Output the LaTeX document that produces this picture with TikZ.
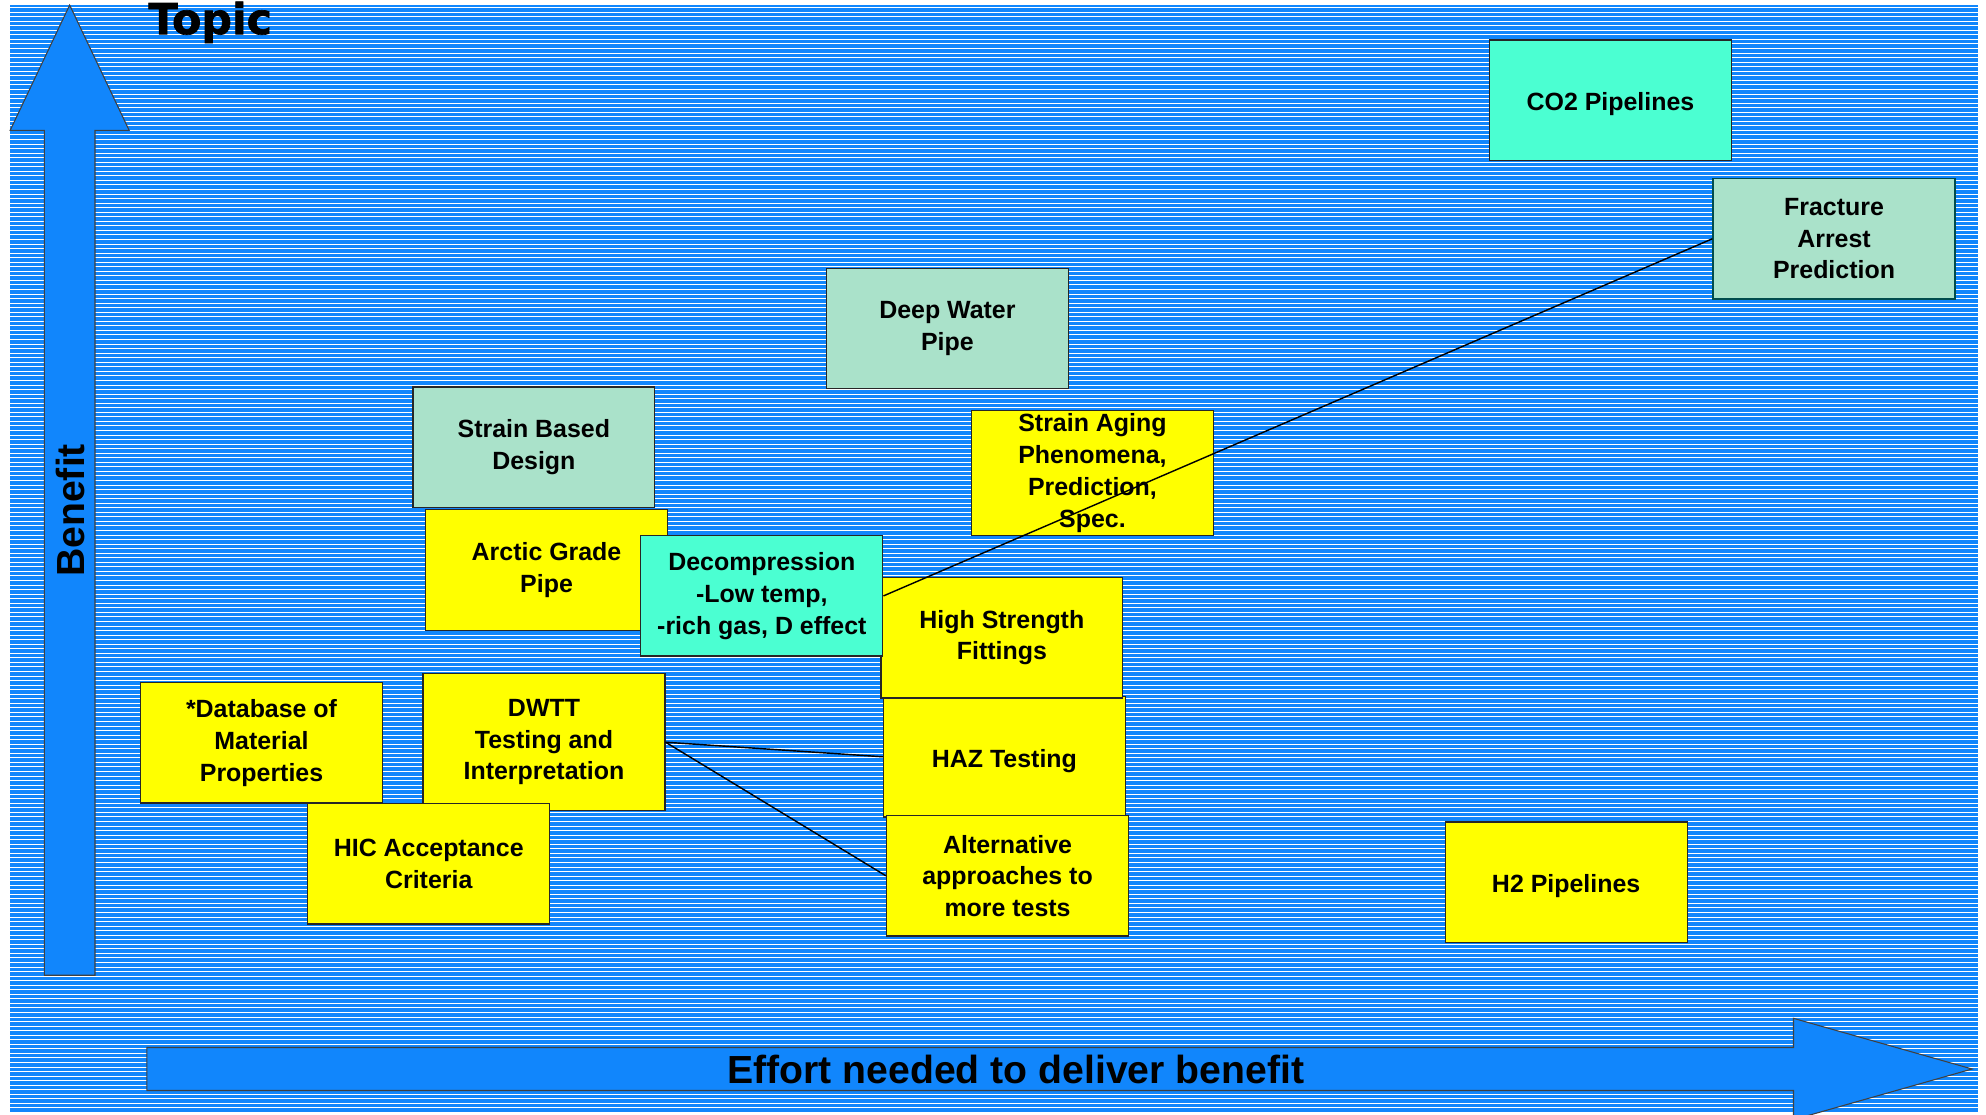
\documentclass[tikz,border=0pt]{standalone}
\usepackage{fontspec}
\setmainfont{Liberation Sans}
\newfontfamily\topicfont{DejaVu Sans}[BoldFeatures={FakeBold=1.5}]
\definecolor{bgblue}{RGB}{17,134,252}
\definecolor{boxyellow}{RGB}{255,255,0}
\definecolor{boxaqua}{RGB}{75,255,210}
\definecolor{boxmint}{RGB}{170,226,202}
\tikzset{
  topicbox/.style = {draw=black!85, line width=0.7pt, align=center, inner sep=2pt,
    minimum width=4.775cm, minimum height=2.375cm,
    font=\fontsize{14}{17.8}\selectfont\bfseries,
    execute at begin node={\rule{0pt}{14.5pt}}},
  yel/.style = {topicbox, fill=boxyellow},% yellow topic
  aqua/.style = {topicbox, fill=boxaqua},% turquoise topic
  mint/.style = {topicbox, fill=boxmint},% pale green topic
  bigarrow/.style = {fill=bgblue, draw=black!75, line width=0.6pt},
  axislabel/.style = {font=\fontsize{22}{26}\selectfont\bfseries}
}
\begin{document}
\begin{tikzpicture}[x=0.025cm, y=-0.025cm]
\useasboundingbox (0,0) rectangle (1568,880);
% striped background
\fill[bgblue] (8,4) rectangle (1562,879);
\foreach \i in {0,...,243}
  \draw[white, line width=0.55pt] (8,6+3.59*\i) -- (1562,6+3.59*\i);
% axes
\draw[bigarrow] (35,770) -- (35,103) -- (8,103) -- (55,4) -- (102,103) -- (75,103) -- (75,770) -- cycle;
\draw[bigarrow] (116,827) -- (1416,827) -- (1416,804) -- (1557,844) -- (1416,884) -- (1416,861) -- (116,861) -- cycle;
\node[axislabel, rotate=90] (benefit) at (56,403) {Benefit};
\node[axislabel] (effort) at (802,844) {Effort needed to deliver benefit};
\node[anchor=base west, inner sep=0pt, font=\topicfont\fontsize{24}{27}\selectfont\bfseries] (topic) at (117,27) {Topic};
% topics
\node[mint] (strainbased) at (421.5,353) {Strain Based\\Design};
\node[yel] (arctic) at (431.5,450) {Arctic Grade\\Pipe};
\node[mint] (deepwater) at (748,259.5) {Deep Water\\Pipe};
\node[yel] (strainaging) at (862.5,373.5) {Strain Aging\\Phenomena,\\Prediction,\\Spec.};
\node[aqua] (co2) at (1271.5,79) {CO2 Pipelines};
\node[mint, draw=teal!60!black] (fracture) at (1448,188.5) {Fracture\\Arrest\\Prediction};
\node[yel] (haz) at (793,597.5) {HAZ Testing};
\node[yel] (fittings) at (791,503.5) {High Strength\\Fittings};
\node[aqua] (decomp) at (601.5,470.5) {Decompression\\-Low temp,\\-rich gas, D effect};
\node[yel] (alt) at (795.5,691.5) {Alternative\\approaches to\\more tests};
\node[yel] (database) at (206.5,586.5) {*Database of\\Material\\Properties};
\node[yel, minimum height=2.7cm] (dwtt) at (429.5,586) {DWTT\\Testing and\\Interpretation};
\node[yel] (hic) at (338.5,682) {HIC Acceptance\\Criteria};
\node[yel] (h2) at (1236.5,696.5) {H2 Pipelines};
% links
\draw[line width=0.8pt] (decomp.east) -- (fracture.west);
\draw[line width=0.8pt] (dwtt.east) -- (haz.west);
\draw[line width=0.8pt] (dwtt.east) -- (alt.west);
\end{tikzpicture}
\end{document}
